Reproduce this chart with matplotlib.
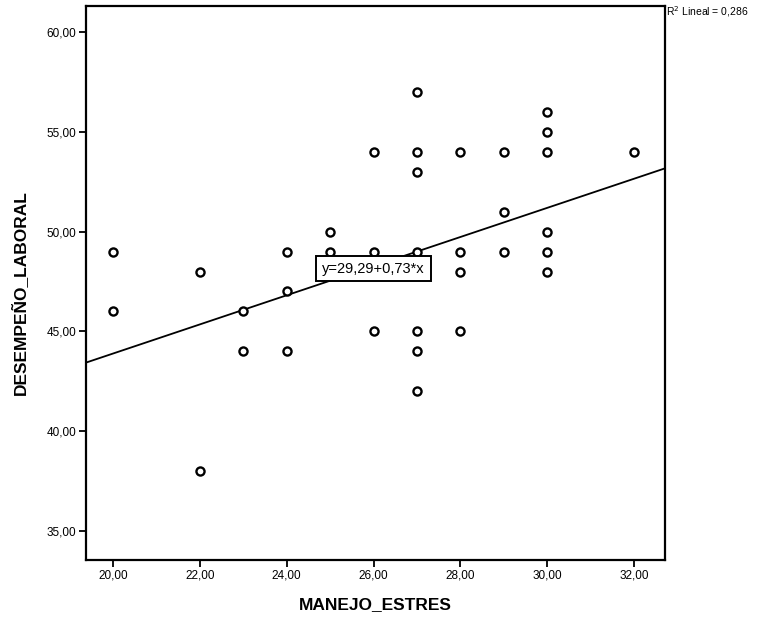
import matplotlib
matplotlib.use("Agg")
import matplotlib.pyplot as plt
import numpy as np

# Data
manejo_estres = [20, 20, 22, 22, 23, 23, 24, 24, 24, 25, 25,
                 26, 26, 26, 27, 27, 27, 27, 27, 27, 27,
                 28, 28, 28, 28, 29, 29, 29,
                 30, 30, 30, 30, 30, 30, 32]
desempeno_laboral = [49, 46, 48, 38, 46, 44, 49, 47, 44, 50, 49,
                     54, 49, 45, 57, 54, 53, 49, 45, 44, 42,
                     54, 49, 48, 45, 54, 51, 49,
                     56, 55, 54, 50, 49, 48, 54]
intercept = 29.29
slope = 0.73
r2_text = "R$^2$ Lineal = 0,286"
eq_text = "y=29,29+0,73*x"
x_ticks = [20, 22, 24, 26, 28, 30, 32]
y_ticks = [35, 40, 45, 50, 55, 60]
x_label = "MANEJO_ESTRES"
y_label = "DESEMPEÑO_LABORAL"

plt.rcParams['font.family'] = ['Liberation Sans', 'DejaVu Sans']

fig = plt.figure(figsize=(7.71, 6.23), dpi=100)
ax = fig.add_axes([86/771, 1-560/623, (665-86)/771, (560-6)/623])

xmin, xmax = 19.38, 32.71
ymin, ymax = 33.55, 61.3
ax.set_xlim(xmin, xmax)
ax.set_ylim(ymin, ymax)

# regression line
xl = np.array([xmin, xmax])
ax.plot(xl, intercept + slope * xl, color='black', lw=1.3, zorder=2)

ax.scatter(manejo_estres, desempeno_laboral, s=34, facecolors='white',
           edgecolors='black', linewidths=1.7, zorder=3)

ax.text(26.0, 48.15, eq_text, ha='center', va='center', fontsize=10.5,
        zorder=5,
        bbox=dict(boxstyle='square,pad=0.4', fc='white', ec='black', lw=1.4))

for s in ax.spines.values():
    s.set_linewidth(1.6)

ax.set_xticks(x_ticks)
ax.set_yticks(y_ticks)
ax.set_xticklabels([f"{v:.2f}".replace('.', ',') for v in x_ticks], fontsize=8.5)
ax.set_yticklabels([f"{v:.2f}".replace('.', ',') for v in y_ticks], fontsize=8.5)
ax.tick_params(direction='out', length=5, width=1.3, pad=2)

fig.text(375/771, 1-605/623, x_label, ha='center', va='center',
         fontsize=12.5, fontweight='bold')
fig.text(19/771, 1-293/623, y_label, ha='center', va='center',
         fontsize=12.5, fontweight='bold', rotation=90)

fig.text(666/771, 1-12/623, r2_text, ha='left', va='center', fontsize=7.5)

fig.savefig("out.png", dpi=100)
